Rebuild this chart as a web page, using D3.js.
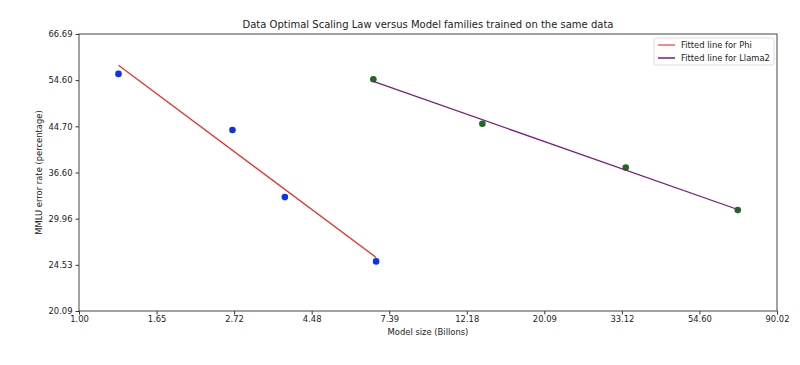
<!DOCTYPE html>
<html><head><meta charset="utf-8">
<script src="https://cdn.jsdelivr.net/npm/d3@7"></script>
<style>body{margin:0;background:#fff;} text{font-family:"DejaVu Sans",sans-serif;fill:#222;}</style>
</head><body><svg id="c" width="800" height="365"></svg>
<script>
const title = "Data Optimal Scaling Law versus Model families trained on the same data";
const xLabel = "Model size (Billons)";
const yLabel = "MMLU error rate (percentage)";
const xTickLabels = ["1.00","1.65","2.72","4.48","7.39","12.18","20.09","33.12","54.60","90.02"];
const yTickLabels = ["20.09","24.53","29.96","36.60","44.70","54.60","66.69"];
const phiSizes = [1.29, 2.69, 3.77, 6.79];
const phiErrors = [56.1, 44.0, 32.9, 24.9];
const llamaSizes = [6.67, 13.47, 33.95, 69.9];
const llamaErrors = [54.8, 45.2, 37.4, 31.1];
const seriesNames = ["Fitted line for Phi", "Fitted line for Llama2"];

const svg = d3.select("#c");
const m = {l:79, r:777, t:34, b:311};
const x = d3.scaleLog().domain([1, Math.exp(4.5)]).range([m.l, m.r]);
const y = d3.scaleLog().domain([Math.exp(3), Math.exp(4.2)]).range([m.b, m.t]);

const xa = d3.axisBottom(x).tickValues(xTickLabels.map((s,i)=>Math.exp(i*0.5))).tickFormat((d,i)=>xTickLabels[i]).tickSizeOuter(0).tickSize(3.5).tickPadding(2);
const ya = d3.axisLeft(y).tickValues(yTickLabels.map((s,i)=>Math.exp(3+i*0.2))).tickFormat((d,i)=>yTickLabels[i]).tickSizeOuter(0).tickSize(3.5).tickPadding(3);

const gx = svg.append("g").attr("transform",`translate(0,${m.b})`).call(xa);
const gy = svg.append("g").attr("transform",`translate(${m.l},0)`).call(ya);
[gx,gy].forEach(g=>{g.select(".domain").remove(); g.selectAll("text").style("font-size","8.4px").style("font-family","DejaVu Sans"); g.selectAll("line").attr("stroke","#333");});

svg.append("rect").attr("x",m.l).attr("y",m.t).attr("width",m.r-m.l).attr("height",m.b-m.t)
  .attr("fill","none").attr("stroke","#444").attr("stroke-width",1);

function fit(xs, ys){
  const lx = xs.map(Math.log), ly = ys.map(Math.log);
  const mx = d3.mean(lx), my = d3.mean(ly);
  const b = d3.sum(lx.map((v,i)=>(v-mx)*(ly[i]-my))) / d3.sum(lx.map(v=>(v-mx)**2));
  const a = my - b*mx;
  const ends = [d3.min(xs), d3.max(xs)];
  return ends.map(v => [v, Math.exp(a + b*Math.log(v))]);
}
const line = d3.line().x(d=>x(d[0])).y(d=>y(d[1]));
const series = [
  {xs:phiSizes, ys:phiErrors, pt:"#0a33f0", ln:"#e8332a"},
  {xs:llamaSizes, ys:llamaErrors, pt:"#1e6b1e", ln:"#7a1a80"}
];
series.forEach(s=>{
  s.xs.forEach((v,i)=>svg.append("circle").attr("cx",x(v)).attr("cy",y(s.ys[i])).attr("r",3.3).attr("fill",s.pt));
  svg.append("path").attr("d",line(fit(s.xs,s.ys))).attr("fill","none").attr("stroke",s.ln).attr("stroke-width",1.3);
});

svg.append("text").attr("x",(m.l+m.r)/2).attr("y",28).attr("text-anchor","middle").style("font-size","10px").text(title);
svg.append("text").attr("x",(m.l+m.r)/2).attr("y",335).attr("text-anchor","middle").style("font-size","8.4px").text(xLabel);
svg.append("text").attr("transform",`translate(42,${(m.t+m.b)/2}) rotate(-90)`).attr("text-anchor","middle").style("font-size","8.4px").text(yLabel);

const lg = svg.append("g");
lg.append("rect").attr("x",654).attr("y",38).attr("width",120).attr("height",27).attr("rx",2)
  .attr("fill","#fff").attr("stroke","#ddd");
seriesNames.forEach((n,i)=>{
  const yy = 45 + i*13;
  lg.append("line").attr("x1",658).attr("x2",675).attr("y1",yy).attr("y2",yy).attr("stroke",series[i].ln).attr("stroke-width",1.5).attr("opacity", i===0?0.75:1);
  lg.append("text").attr("x",681).attr("y",yy+3).style("font-size","8.4px").text(n);
});
</script></body></html>
